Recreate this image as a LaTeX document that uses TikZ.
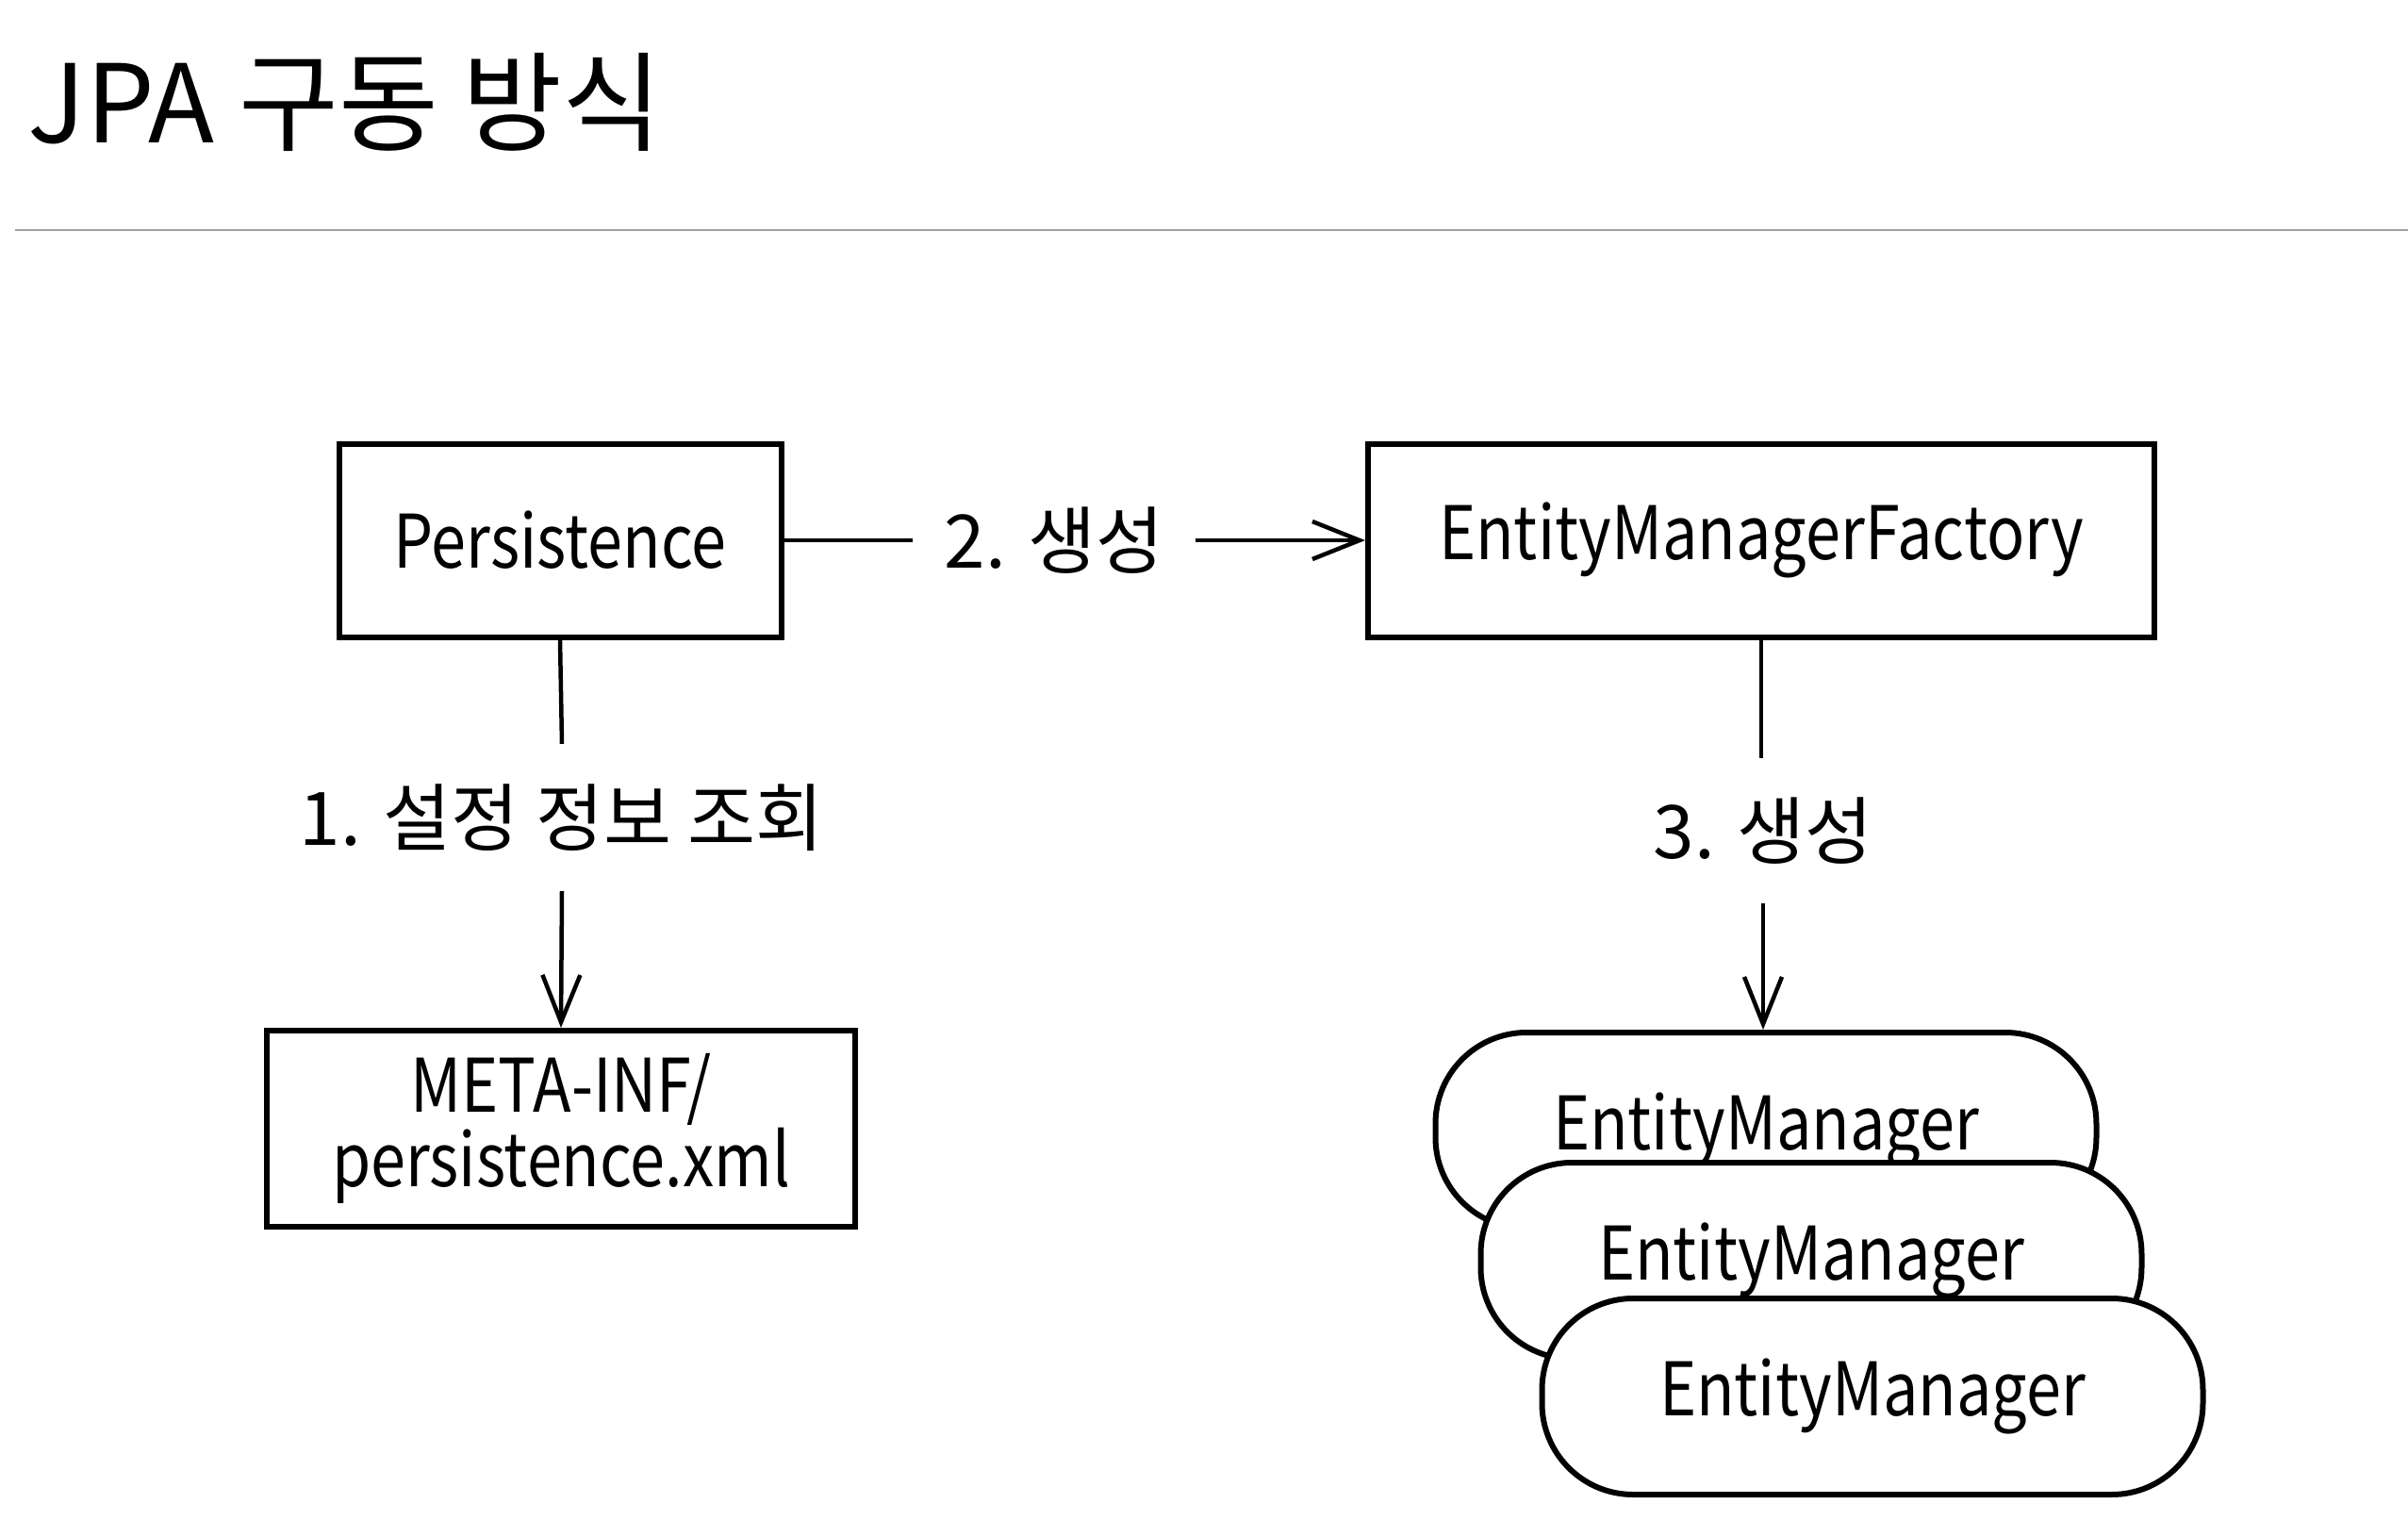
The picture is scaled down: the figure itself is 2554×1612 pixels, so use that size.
\documentclass[tikz,border=0pt]{standalone}
\usepackage{fontspec}
\setmainfont{Noto Sans CJK KR}
\newfontfamily\narrowfont[FakeStretch=0.85]{Noto Sans CJK KR}
\usetikzlibrary{arrows.meta}
\definecolor{rulegray}{RGB}{160,160,160}
\newcommand{\boxfont}{\narrowfont\fontsize{23.5}{22.5}\selectfont}
\newcommand{\lblfont}{\fontsize{23.5}{22.5}\selectfont}
\newcommand{\titlefont}{\fontsize{34.5}{40}\selectfont}
\begin{document}
\begin{tikzpicture}[x=0.3pt,y=-0.3pt,
  box/.style={draw, line width=1.8pt, inner sep=0pt, font=\boxfont, align=center},
  lbl/.style={inner sep=0pt, font=\lblfont},
  emgr/.style={draw, fill=white, line width=1.8pt, rounded corners=29pt, inner sep=0pt,
    minimum width=210.3pt, minimum height=62.4pt, font=\boxfont},
  conn/.style={line width=1.35pt},
  arr/.style={line width=1.35pt, -{Straight Barb[length=15pt,width=12pt]}}]
\useasboundingbox (0,0) rectangle (2554,1612);
% title and rule
\node[anchor=base west, inner sep=0pt, font=\titlefont] (title) at (29,151) {JPA 구동 방식};
\coordinate (ruleL) at (16,244);
\coordinate (ruleR) at (2554,244);
\draw[rulegray, line width=0.6pt] (ruleL) -- (ruleR);
% boxes
\node[box, minimum width=140.7pt, minimum height=61.5pt] (pers) at (594,573) {Persistence};
\node[box, minimum width=250.2pt, minimum height=61.5pt] (emf) at (1868,573) {EntityManagerFactory};
\node[box, minimum width=187.2pt, minimum height=62.4pt] (meta) at (595,1197) {META-INF/\\persistence.xml};
% entity managers
\node[emgr] (em1) at (1873,1199) {EntityManager};
\node[emgr] (em2) at (1921,1337) {EntityManager};
\node[emgr] (em3) at (1986,1481) {EntityManager};
% labels
\node[lbl, minimum height=46.5pt] (l1) at (596,867) {1. 설정 정보 조회};
\node[lbl, minimum width=89.4pt] (l2) at (1118,573) {2. 생성};
\node[lbl, minimum height=46pt] (l3) at (1870,881) {3. 생성};
% connectors
\draw[conn] (pers.south) -- (l1.north);
\draw[arr] (l1.south) -- (meta.north);
\draw[conn] (pers.east) -- (l2.west);
\draw[arr] (l2.east) -- (emf.west);
\draw[conn] (emf.south) -- (emf.south |- l3.north);
\draw[arr] (l3.south) -- (l3.south |- em1.north);
\end{tikzpicture}
\end{document}
